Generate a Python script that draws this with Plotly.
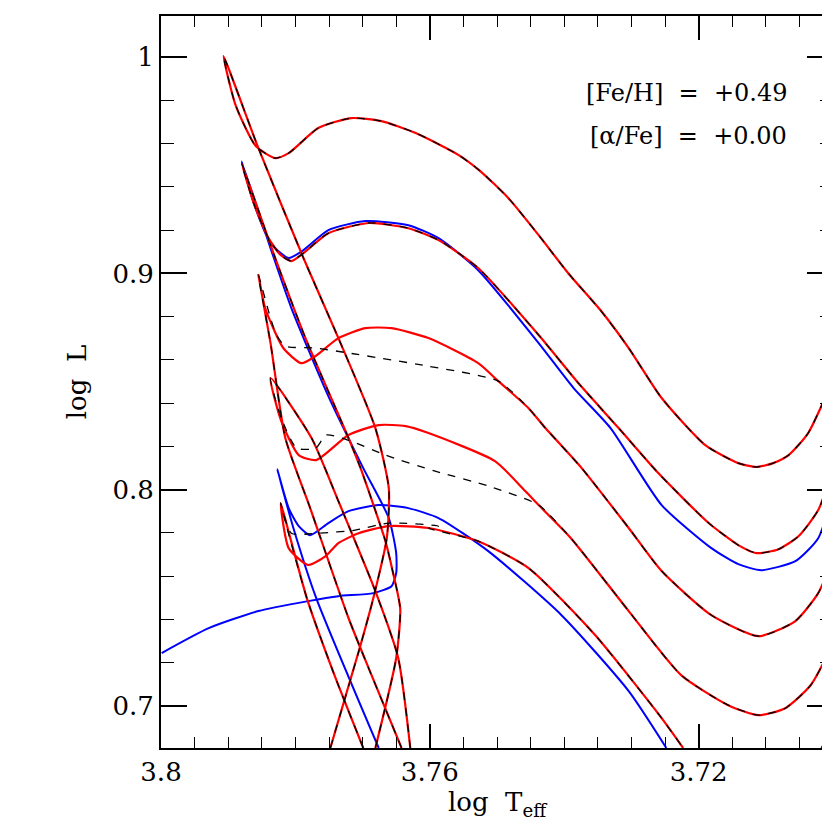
import plotly.graph_objects as go

# Track 1
t1_x = [3.7748,3.7703,3.7684,3.7664,3.7661,3.7681,3.7736,3.7788,3.7855,3.7907,3.7889,3.7859,3.7830,3.7810,3.7766,3.7717,3.7672,3.7621,3.7557,3.7525,3.7483,3.7438,3.7394,3.7345,3.7304,3.7255,3.7190,3.7141,3.7114,3.7089,3.7066,3.7037,3.6999]
t1_y = [0.6806,0.7282,0.7499,0.7776,0.8007,0.8285,0.8701,0.9071,0.9579,1.0005,0.9778,0.9589,0.9533,0.9556,0.9672,0.9718,0.9704,0.9649,0.9547,0.9473,0.9348,0.9177,0.9001,0.8826,0.8655,0.8424,0.8206,0.8123,0.8105,0.8123,0.8160,0.8262,0.8516]
# Track 2
t2_x = [3.7681,3.7650,3.7644,3.7655,3.7666,3.7703,3.7721,3.7785,3.7830,3.7880,3.7862,3.7840,3.7822,3.7806,3.7788,3.7751,3.7691,3.7632,3.7587,3.7528,3.7438,3.7379,3.7319,3.7260,3.7185,3.7141,3.7114,3.7081,3.7051,3.7022,3.6999]
t2_y = [0.6806,0.7222,0.7450,0.7620,0.7762,0.8100,0.8239,0.8701,0.9071,0.9510,0.9325,0.9163,0.9085,0.9057,0.9094,0.9186,0.9233,0.9209,0.9154,0.9025,0.8715,0.8493,0.8285,0.8077,0.7846,0.7744,0.7707,0.7725,0.7786,0.7906,0.8109]
# Blue track 2
b2_x = [3.7999,3.7929,3.7855,3.7781,3.7736,3.7684,3.7657,3.7650,3.7650,3.7661,3.7699,3.7751,3.7806,3.7833,3.7880,3.7862,3.7837,3.7810,3.7788,3.7751,3.7696,3.7632,3.7587,3.7528,3.7438,3.7386,3.7331,3.7255,3.7181,3.7141,3.7107,3.7056,3.7022,3.6999]
b2_y = [0.7245,0.7360,0.7439,0.7485,0.7508,0.7522,0.7554,0.7615,0.7707,0.7869,0.8100,0.8433,0.8840,0.9080,0.9519,0.9325,0.9140,0.9071,0.9108,0.9200,0.9242,0.9223,0.9163,0.9015,0.8678,0.8470,0.8285,0.7929,0.7730,0.7656,0.7628,0.7670,0.7776,0.7998]
# Track 3
t3_ms_x = [3.7642,3.7691,3.7721,3.7778,3.7815,3.7837,3.7855]
t3_ms_y = [0.6806,0.7175,0.7407,0.7915,0.8239,0.8678,0.8992]
t3_rgb_x = [3.7498,3.7453,3.7428,3.7374,3.7304,3.7255,3.7181,3.7111,3.7056,3.7022,3.7001]
t3_rgb_y = [0.8502,0.8377,0.8285,0.8100,0.7823,0.7624,0.7420,0.7323,0.7393,0.7522,0.7675]
t3_red_hook_x = [3.7845,3.7818,3.7791,3.7770,3.7736,3.7696,3.7657,3.7602,3.7528]
t3_red_hook_y = [0.8840,0.8655,0.8585,0.8618,0.8701,0.8747,0.8747,0.8701,0.8585]
t3_dash_hook_x = [3.7837,3.7828,3.7815,3.7770,3.7721,3.7602]
t3_dash_hook_y = [0.8793,0.8715,0.8664,0.8655,0.8632,0.8571]
# Track 4
t4_ms_x = [3.7629,3.7647,3.7681,3.7736,3.7776,3.7837]
t4_ms_y = [0.6806,0.7222,0.7531,0.7947,0.8239,0.8516]
t4_rgb_x = [3.7438,3.7390,3.7304,3.7226,3.7156,3.7111,3.7071,3.7033,3.7001]
t4_rgb_y = [0.7929,0.7776,0.7439,0.7143,0.7004,0.6958,0.6990,0.7097,0.7282]
t4_red_hook_x = [3.7821,3.7795,3.7769,3.7721,3.7676,3.7636,3.7602,3.7503,3.7458]
t4_red_hook_y = [0.8317,0.8160,0.8137,0.8253,0.8299,0.8294,0.8262,0.8132,0.7994]
t4_dash_hook_x = [3.7821,3.7798,3.7770,3.7754,3.7721,3.7666,3.7592,3.7513]
t4_dash_hook_y = [0.8331,0.8192,0.8192,0.8253,0.8229,0.8160,0.8086,0.8017]
# Track 5
t5_ms_x = [3.7699,3.7743,3.7783,3.7822]
t5_ms_y = [0.6806,0.7152,0.7499,0.7938]
t5_rgb_x = [3.7602,3.7528,3.7453,3.7354,3.7255,3.7223]
t5_rgb_y = [0.7823,0.7762,0.7638,0.7328,0.6944,0.6806]
t5_red_hook_x = [3.7810,3.7781,3.7755,3.7736,3.7706,3.7661]
t5_red_hook_y = [0.7730,0.7652,0.7693,0.7753,0.7799,0.7832]
t5_dash_hook_x = [3.7806,3.7766,3.7711,3.7661,3.7587]
t5_dash_hook_y = [0.7799,0.7799,0.7813,0.7846,0.7832]
# Blue track 5
b5_x = [3.7676,3.7769,3.7803,3.7827,3.7810,3.7795,3.7778,3.7751,3.7721,3.7676,3.7632,3.7587,3.7513,3.7404,3.7304,3.7248]
b5_y = [0.6806,0.7499,0.7823,0.8095,0.7915,0.7832,0.7790,0.7846,0.7901,0.7929,0.7915,0.7869,0.7716,0.7420,0.7069,0.6806]
# Track 6 fragment
t6_x = [3.7017,3.6999]
t6_y = [0.6806,0.6898]

RED = "#ff0000"; BLUE = "#0000ff"; BLK = "#000000"
fig = go.Figure()

def add(x, y, color, dash="solid", w=2.0):
    fig.add_trace(go.Scatter(x=x, y=y, mode="lines",
                             line=dict(color=color, width=w, dash=dash, shape="spline", smoothing=0.6),
                             showlegend=False, hoverinfo="skip"))

red_paths = [
    (t1_x, t1_y), (t2_x, t2_y),
    (t3_ms_x + t3_red_hook_x + t3_rgb_x, t3_ms_y + t3_red_hook_y + t3_rgb_y),
    (t4_ms_x + t4_red_hook_x + t4_rgb_x, t4_ms_y + t4_red_hook_y + t4_rgb_y),
    (t5_ms_x + t5_red_hook_x + t5_rgb_x, t5_ms_y + t5_red_hook_y + t5_rgb_y),
    (t6_x, t6_y),
]
dash_paths = [
    (t1_x, t1_y), (t2_x, t2_y),
    (t3_ms_x + t3_dash_hook_x + t3_rgb_x, t3_ms_y + t3_dash_hook_y + t3_rgb_y),
    (t4_ms_x + t4_dash_hook_x + t4_rgb_x, t4_ms_y + t4_dash_hook_y + t4_rgb_y),
    (t5_ms_x + t5_dash_hook_x + t5_rgb_x, t5_ms_y + t5_dash_hook_y + t5_rgb_y),
    (t6_x, t6_y),
]
add(b2_x, b2_y, BLUE)
add(b5_x, b5_y, BLUE)
for x, y in red_paths:
    add(x, y, RED, w=2.2)
for x, y in dash_paths:
    add(x, y, BLK, dash="8px,8px", w=1.3)

font = dict(family="DejaVu Serif, Liberation Serif, serif", color="black")
fig.add_annotation(x=0.935, y=0.895, xref="paper", yref="paper", xanchor="right", yanchor="middle",
                   text="[Fe/H]  =  +0.49", showarrow=False, font=dict(size=24, **font))
fig.add_annotation(x=0.935, y=0.836, xref="paper", yref="paper", xanchor="right", yanchor="middle",
                   text="[α/Fe]  =  +0.00", showarrow=False, font=dict(size=24, **font))

axis_common = dict(showgrid=False, zeroline=False, showline=True, linecolor="black", linewidth=2,
                   mirror="ticks", ticks="inside", tickcolor="black", tickwidth=1.5, automargin=False,
                   tickfont=dict(size=26, **font))
fig.update_xaxes(range=[3.8, 3.70], ticklen=24,
                 tickvals=[3.8, 3.76, 3.72], ticktext=["3.8", "3.76", "3.72"],
                 minor=dict(dtick=0.005, tick0=3.8, ticks="inside", ticklen=11, tickcolor="black", tickwidth=1.2),
                 title=dict(text="log  T<sub>eff</sub>", font=dict(size=26, **font), standoff=2),
                 **axis_common)
fig.update_yaxes(range=[0.6806, 1.019], ticklen=26,
                 tickvals=[0.7, 0.8, 0.9, 1.0], ticktext=["0.7", "0.8", "0.9", "1"],
                 minor=dict(dtick=0.02, tick0=0.7, ticks="inside", ticklen=13, tickcolor="black", tickwidth=1.2),
                 title=dict(text="log  L", font=dict(size=26, **font), standoff=18),
                 **axis_common)
fig.update_layout(width=830, height=830, margin=dict(l=153, r=5, t=8, b=90),
                  plot_bgcolor="white", paper_bgcolor="white")
fig.write_html("out.html")
